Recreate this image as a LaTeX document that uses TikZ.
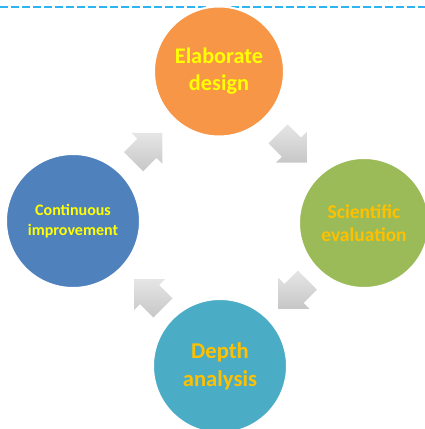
\documentclass[tikz,border=0pt]{standalone}
\usepackage{fontspec}
\setmainfont{Carlito}
\usetikzlibrary{calc}

\definecolor{designcol}{HTML}{F79646}
\definecolor{evalcol}{HTML}{9BBB59}
\definecolor{analysiscol}{HTML}{4BACC6}
\definecolor{improvecol}{HTML}{4F81BD}
\definecolor{textyellow}{HTML}{FFFF00}
\definecolor{textgold}{HTML}{FFC000}
\definecolor{rulecol}{HTML}{2CB5F0}

\tikzset{
  stage/.style={circle,draw=white,line width=2pt,inner sep=0pt,align=center},
  turn/.style={top color=black!10,bottom color=black!22,draw=none}
}

% block arrow pointing along +x, centred at the origin
\newcommand{\turnarrow}{(-20.5,-13.5) -- (-1.5,-13.5) -- (-1.5,-22) -- (20.5,0)
  -- (-1.5,22) -- (-1.5,13.5) -- (-20.5,13.5) -- cycle}

\begin{document}
\begin{tikzpicture}[x=1pt,y=1pt]
        \useasboundingbox (0,0) rectangle (425,429);

        % top rule
        \coordinate (ruleL) at (0,422);
        \coordinate (ruleR) at (425,422);
        \draw[rulecol,line width=2pt,dash pattern=on 8pt off 3pt] (ruleL) -- (ruleR);

        % the four stages
        \node[stage,fill=designcol,minimum size=130pt,text=textyellow,
              font=\fontsize{22.3}{27}\selectfont\bfseries] (design) at (219,357.5) {Elaborate\\design};
        \node[stage,fill=evalcol,minimum size=130pt,text=textgold,
              font=\fontsize{19.5}{23}\selectfont\bfseries] (evaluation) at (364,206) {Scientific\\evaluation};
        \node[stage,fill=analysiscol,minimum size=134pt,text=textgold,
              font=\fontsize{22.6}{28}\selectfont\bfseries] (analysis) at (220,63) {Depth\\analysis};
        \node[stage,fill=improvecol,minimum size=134pt,text=textyellow,
              font=\fontsize{16}{20}\selectfont\bfseries] (improve) at (73,208) {Continuous\\improvement};

        % arrows between stages
        \coordinate (a1) at ($(improve)!0.5!(design)+(2,-1)$);
        \coordinate (a2) at ($(design)!0.5!(evaluation)+(1,-1)$);
        \coordinate (a3) at ($(evaluation)!0.5!(analysis)+(1,0)$);
        \coordinate (a4) at ($(analysis)!0.5!(improve)+(2,0)$);
        \foreach \pos/\ang in {a1/45,a2/-45,a3/-135,a4/135}{
          \begin{scope}[shift={(\pos)},rotate=\ang]
            \shade[turn] \turnarrow;
          \end{scope}
        }

    \end{tikzpicture}
\end{document}
